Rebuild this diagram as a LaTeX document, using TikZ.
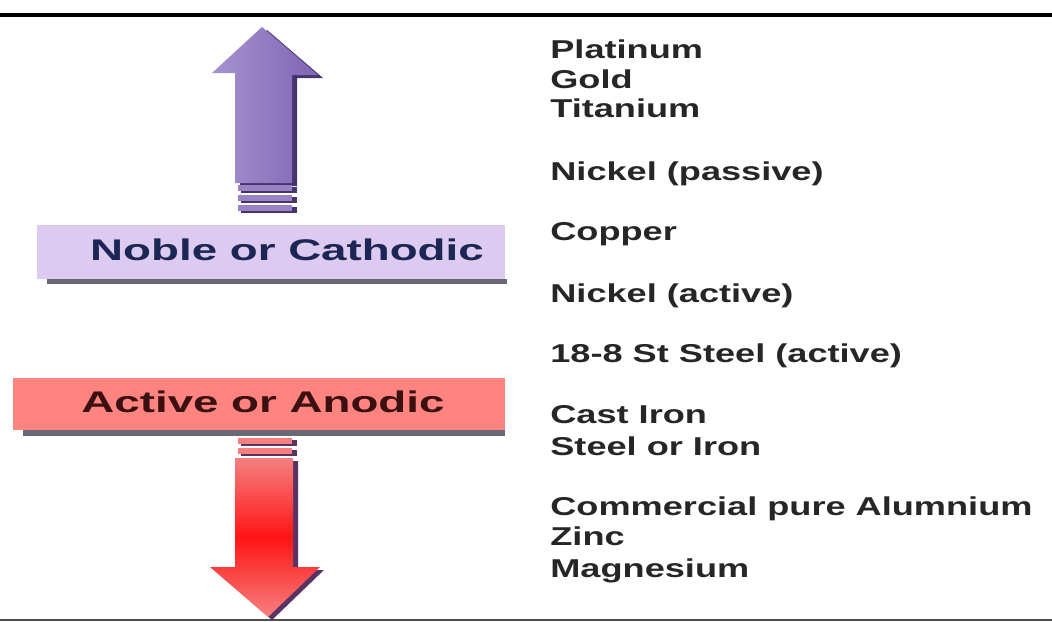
\documentclass[tikz,border=0pt]{standalone}
\usepackage{fontspec}
\usepackage{xcolor}
\usepackage{tikz}
\usetikzlibrary{positioning}
\newfontfamily\listfont{Liberation Sans}[FakeStretch=1.4]
\newfontfamily\tagfont{Liberation Sans}[FakeStretch=1.53]
\definecolor{noblefill}{RGB}{221, 202, 240}
\definecolor{nobletext}{RGB}{28, 38, 84}
\definecolor{activefill}{RGB}{255, 132, 128}
\definecolor{activetext}{RGB}{58, 16, 16}
\definecolor{boxshadow}{RGB}{105, 105, 118}
\definecolor{uplight}{RGB}{165, 148, 208}
\definecolor{upmid}{RGB}{128, 100, 180}
\definecolor{updark}{RGB}{70, 52, 110}
\definecolor{downlight}{RGB}{246, 128, 128}
\definecolor{downmid}{RGB}{255, 20, 20}
\definecolor{downdark}{RGB}{90, 50, 100}

\tikzset{
  metal/.style={anchor=base west, inner sep=0pt, text=black!85,
    font=\listfont\bfseries\fontsize{14.7}{17}\selectfont},
  tagbox/.style={anchor=base, inner sep=0pt,
    font=\tagfont\bfseries\fontsize{17}{20}\selectfont}
}

\begin{document}
\begin{tikzpicture}[x=0.02cm, y=-0.02cm]
        \useasboundingbox (0,0) rectangle (1052,622);
        % rules
        \draw[line width=1.8pt] (0,15) -- (1052,15);
        \draw[line width=0.9pt, black!70] (0,620) -- (1052,620);

        % up arrow
        \fill[updark] (267,30) -- (323,78) -- (297,78) -- (297,186) -- (240,186) -- (240,78) -- cycle;
        \shade[left color=uplight, right color=upmid]
            (262,27) -- (318,75) -- (292,75) -- (292,183) -- (235,183) -- (235,73) -- (212,73) -- cycle;
        \foreach \y in {185,195,205} {
            \fill[updark] (241,\y+2) rectangle (297,\y+8);
            \fill[upmid!80!white] (238,\y) rectangle (292,\y+6);
        }

        % labels on the left
        \fill[boxshadow] (47,279) rectangle (507,284);
        \fill[noblefill] (37,225) rectangle (505,279);
        \node[tagbox, text=nobletext] (noble) at (287,260) {Noble or Cathodic};

        \fill[boxshadow] (23,430) rectangle (505,436);
        \fill[activefill] (13,378) rectangle (505,430);
        \node[tagbox, text=activetext] (active) at (263,412) {Active or Anodic};

        % down arrow
        \foreach \y in {438,448} {
            \fill[downdark] (241,\y+2) rectangle (297,\y+8);
            \fill[downlight] (238,\y) rectangle (292,\y+6);
        }
        \fill[downdark] (240,461) -- (298,461) -- (298,570) -- (324,570) -- (272,620) -- (215,570) -- (240,570) -- cycle;
        \shade[top color=downlight, bottom color=downlight, middle color=downmid]
            (235,458) -- (293,458) -- (293,567) -- (320,567) -- (268,617) -- (210,567) -- (235,567) -- cycle;

        % galvanic series
        \node[metal] (platinum) at (550,58) {Platinum};
        \node[metal] (gold) at (550,88) {Gold};
        \node[metal] (titanium) at (550,117) {Titanium};
        \node[metal] (nipassive) at (550,180) {Nickel (passive)};
        \node[metal] (copper) at (550,240) {Copper};
        \node[metal] (niactive) at (550,302) {Nickel (active)};
        \node[metal] (ststeel) at (550,362) {18-8 St Steel (active)};
        \node[metal] (castiron) at (550,423) {Cast Iron};
        \node[metal] (steel) at (550,455) {Steel or Iron};
        \node[metal] (alu) at (550,515) {Commercial pure Alumnium};
        \node[metal] (zinc) at (550,545) {Zinc};
        \node[metal] (magnesium) at (550,577) {Magnesium};
\end{tikzpicture}
\end{document}
